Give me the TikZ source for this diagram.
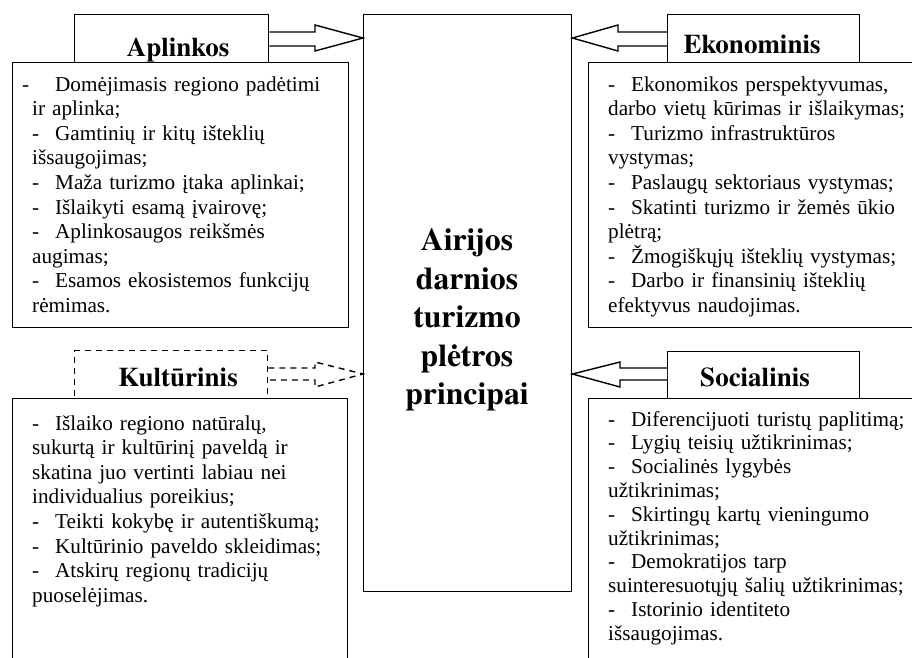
\documentclass[tikz,border=0pt]{standalone}
\usepackage{fontspec}
\setmainfont{Liberation Serif}
\IfFontExistsTF{texgyretermes-bold.otf}
  {\newfontfamily\tbold{texgyretermes-bold.otf}}
  {\newfontfamily\tbold{Liberation Serif}[FakeBold=2.2]}
\newcommand\itm{\makebox[23pt][l]{-}}
\tikzset{
  frame/.style={draw, line width=1.4pt, fill=white, rectangle, inner sep=0pt, anchor=north west},
  dframe/.style={frame, dash pattern=on 6pt off 5pt},
  ttl/.style={font=\tbold\fontsize{27}{30}\selectfont, anchor=base, inner sep=0pt},
  lst/.style={font=\fontsize{21.2}{24.6}\selectfont, anchor=base west, inner sep=0pt, text width=420pt, align=left},
  lstb/.style={lst, font=\fontsize{21.2}{23.8}\selectfont},
  barrow/.style={draw, line width=1.4pt, fill=white, line join=miter},
  dbarrow/.style={barrow, dash pattern=on 6pt off 5pt},
}
\begin{document}
\begin{tikzpicture}[x=1pt,y=-1pt]
\useasboundingbox (0,0) rectangle (912,657);
\clip (0,0) rectangle (912,657);

% central box
\node[frame, minimum width=208pt, minimum height=577pt] (cen) at (363,14) {};
\node[font=\tbold\fontsize{31.7}{38.5}\selectfont, align=center, inner sep=0pt, anchor=center] (cenT) at (467,320)
  {Airijos\\darnios\\turizmo\\plėtros\\principai};

% Aplinkos
\node[frame, minimum width=194pt, minimum height=70pt] (aplT) at (74,14) {};
\node[ttl] (aplL) at (178,56) {Aplinkos};
\node[frame, minimum width=336pt, minimum height=265pt] (aplB) at (12,62) {};
\node[lst] (aplX) at (32,91) {\hspace*{-10pt}\makebox[33pt][l]{-}Domėjimasis regiono padėtimi\\
ir aplinka;\\
\itm Gamtinių ir kitų išteklių\\
išsaugojimas;\\
\itm Maža turizmo įtaka aplinkai;\\
\itm Išlaikyti esamą įvairovę;\\
\itm Aplinkosaugos reikšmės\\
augimas;\\
\itm Esamos ekosistemos funkcijų\\
rėmimas.};

% Ekonominis
\node[frame, minimum width=192pt, minimum height=70pt] (ekoT) at (667,14) {};
\node[ttl] (ekoL) at (752,53) {Ekonominis};
\node[frame, minimum width=360pt, minimum height=265pt] (ekoB) at (588,62) {};
\node[lst] (ekoX) at (608,91) {\itm Ekonomikos perspektyvumas,\\
darbo vietų kūrimas ir išlaikymas;\\
\itm Turizmo infrastruktūros\\
vystymas;\\
\itm Paslaugų sektoriaus vystymas;\\
\itm Skatinti turizmo ir žemės ūkio\\
plėtrą;\\
\itm Žmogiškųjų išteklių vystymas;\\
\itm Darbo ir finansinių išteklių\\
efektyvus naudojimas.};

% Kulturinis
\node[dframe, minimum width=193pt, minimum height=70pt] (kulT) at (74,350) {};
\node[ttl] (kulL) at (178,386) {Kultūrinis};
\node[frame, minimum width=335pt, minimum height=300pt] (kulB) at (12,398) {};
\node[lst] (kulX) at (32,430) {\itm Išlaiko regiono natūralų,\\
sukurtą ir kultūrinį paveldą ir\\
skatina juo vertinti labiau nei\\
individualius poreikius;\\
\itm Teikti kokybę ir autentiškumą;\\
\itm Kultūrinio paveldo skleidimas;\\
\itm Atskirų regionų tradicijų\\
puoselėjimas.};

% Socialinis
\node[frame, minimum width=192pt, minimum height=70pt] (socT) at (667,351) {};
\node[ttl] (socL) at (755,386) {Socialinis};
\node[frame, minimum width=360pt, minimum height=300pt] (socB) at (588,398) {};
\node[lstb] (socX) at (608,426) {\itm Diferencijuoti turistų paplitimą;\\
\itm Lygių teisių užtikrinimas;\\
\itm Socialinės lygybės\\
užtikrinimas;\\
\itm Skirtingų kartų vieningumo\\
užtikrinimas;\\
\itm Demokratijos tarp\\
suinteresuotųjų šalių užtikrinimas;\\
\itm Istorinio identiteto\\
išsaugojimas.};

% block arrows
\draw[barrow] (aplT.east |- 0,32) -- (315,32) -- (315,25) -- (cen.west |- 0,38)
  -- (315,51) -- (315,46) -- (aplT.east |- 0,46);
\draw[barrow] (ekoT.west |- 0,32) -- (618,32) -- (618,25) -- (cen.east |- 0,38)
  -- (618,51) -- (618,46) -- (ekoT.west |- 0,46);
\draw[dbarrow] (kulT.east |- 0,368) -- (315,368) -- (315,362) -- (cen.west |- 0,374)
  -- (315,387) -- (315,380) -- (kulT.east |- 0,380);
\draw[barrow] (socT.west |- 0,368) -- (620,368) -- (620,362) -- (cen.east |- 0,374)
  -- (620,387) -- (620,380) -- (socT.west |- 0,380);
\end{tikzpicture}
\end{document}
